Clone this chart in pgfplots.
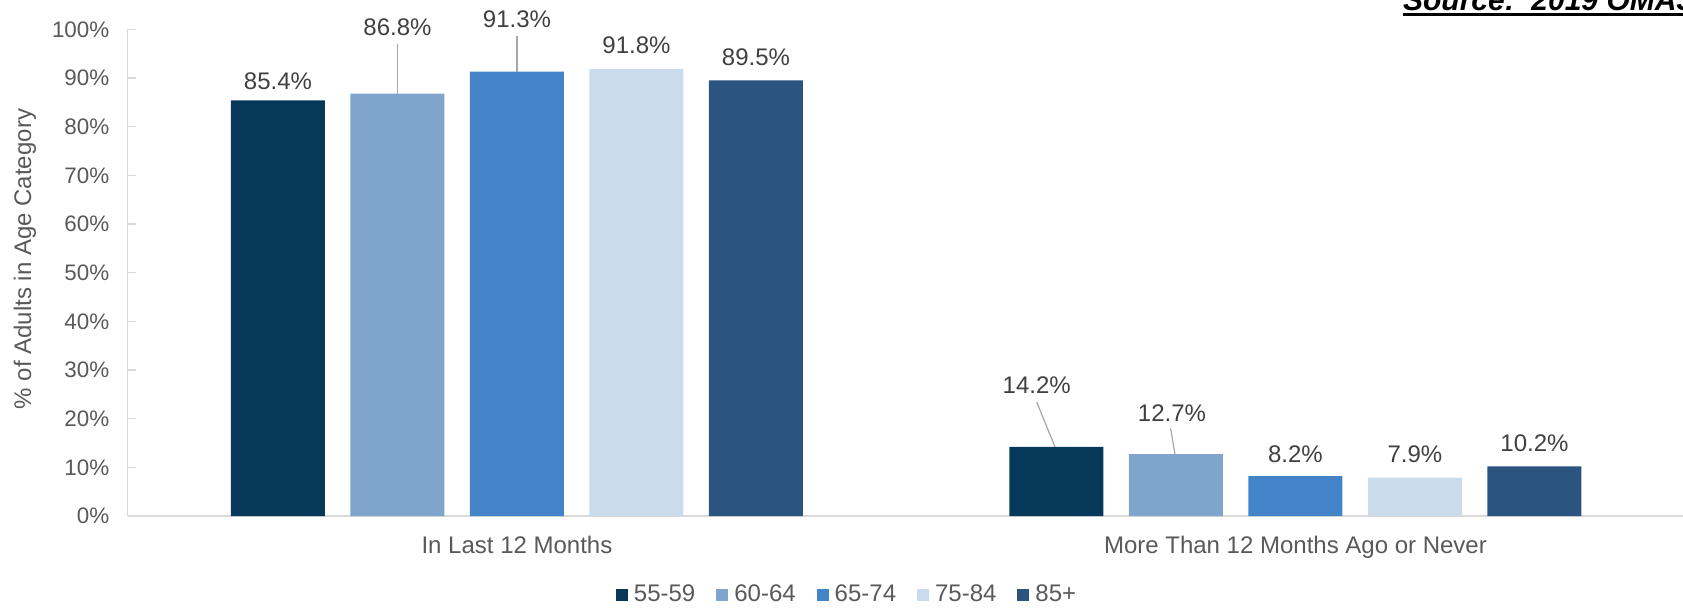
\documentclass[border=0pt]{standalone}
\usepackage{pgfplots}
\pgfplotsset{compat=1.18}
\usepackage{fontspec}
\setmainfont{Liberation Sans}
\definecolor{cA}{RGB}{5,56,89}
\definecolor{cB}{RGB}{127,165,204}
\definecolor{cC}{RGB}{67,132,201}
\definecolor{cD}{RGB}{202,219,236}
\definecolor{cE}{RGB}{43,84,128}
\definecolor{tickc}{RGB}{89,89,89}
\definecolor{labc}{RGB}{64,64,64}
\definecolor{axl}{RGB}{217,217,217}
\definecolor{leadc}{RGB}{166,166,166}
\pgfplotsset{sq legend/.style={legend image code/.code={\fill[##1] (0pt,-3pt) rectangle (6pt,3pt);}}}
\tikzset{lbl/.style={inner sep=0pt, anchor=center, font=\fontsize{12}{14}\selectfont, text=labc},
  lead/.style={draw=leadc, line width=0.6pt}}
\begin{document}
\begin{tikzpicture}
\begin{axis}[
  scale only axis, width=778.5pt, height=243.35pt,
  xmin=-0.5, xmax=1.5, ymin=0, ymax=100, enlargelimits=false, clip=false,
  axis x line*=bottom, axis y line*=left,
  axis line style={draw=axl, line width=0.75pt},
  xtick={0,1}, xticklabels={In Last 12 Months, More Than 12 Months Ago or Never},
  xtick style={draw=none},
  ytick={0,10,...,100},
  yticklabels={0\%,10\%,20\%,30\%,40\%,50\%,60\%,70\%,80\%,90\%,100\%},
  ytick style={draw=axl, line width=0.75pt},
  tick align=inside, major tick length=4pt,
  xticklabel style={anchor=base, inner sep=0pt, yshift=-18.5pt, font=\fontsize{12}{14}\selectfont, text=tickc},
  yticklabel style={anchor=east, inner sep=0pt, xshift=-9pt, font=\fontsize{11.2}{13}\selectfont, text=tickc},
  ylabel={\% of Adults in Age Category},
  ylabel style={at={(axis description cs:-0.066,0.528)}, anchor=center, inner sep=0pt, font=\fontsize{12}{14}\selectfont, text=tickc},
  legend columns=5,
  legend style={at={(axis description cs:0.4614,-0.1623)}, anchor=center, draw=none, fill=none,
    font=\fontsize{12}{14}\selectfont, text=tickc, nodes={inner sep=0pt},
    /tikz/every odd column/.append style={column sep=3pt},
    /tikz/every even column/.append style={column sep=10.5pt}},
]
\addplot[ybar, bar width=0.1207, bar shift=0pt, fill=cA, draw=none, sq legend] coordinates {(-0.307,85.4) (0.693,14.2)};
\addlegendentry{55-59}
\addplot[ybar, bar width=0.1207, bar shift=0pt, fill=cB, draw=none, sq legend] coordinates {(-0.1535,86.8) (0.8465,12.7)};
\addlegendentry{60-64}
\addplot[ybar, bar width=0.1207, bar shift=0pt, fill=cC, draw=none, sq legend] coordinates {(0,91.3) (1,8.2)};
\addlegendentry{65-74}
\addplot[ybar, bar width=0.1207, bar shift=0pt, fill=cD, draw=none, sq legend] coordinates {(0.1535,91.8) (1.1535,7.9)};
\addlegendentry{75-84}
\addplot[ybar, bar width=0.1207, bar shift=0pt, fill=cE, draw=none, sq legend] coordinates {(0.307,89.5) (1.307,10.2)};
\addlegendentry{85+}
% leader lines
\draw[lead] (axis cs:-0.1535,96.9) -- (axis cs:-0.1535,86.8);
\draw[lead] (axis cs:0,98.6) -- (axis cs:0,91.3);
\draw[lead] (axis cs:0.6677,23.4) -- (axis cs:0.6911,14.2);
\draw[lead] (axis cs:0.8397,18.0) -- (axis cs:0.8452,12.7);
% data labels
\node[lbl] at (axis cs:-0.307,89.4) {85.4\%};
\node[lbl] at (axis cs:-0.1535,100.4) {86.8\%};
\node[lbl] at (axis cs:0,102.1) {91.3\%};
\node[lbl] at (axis cs:0.1535,96.7) {91.8\%};
\node[lbl] at (axis cs:0.307,94.3) {89.5\%};
\node[lbl] at (axis cs:0.6677,26.9) {14.2\%};
\node[lbl] at (axis cs:0.8414,21.1) {12.7\%};
\node[lbl] at (axis cs:1,12.6) {8.2\%};
\node[lbl] at (axis cs:1.1535,12.6) {7.9\%};
\node[lbl] at (axis cs:1.307,15.0) {10.2\%};
\end{axis}
\node[anchor=base west, inner sep=0pt, font=\fontsize{15}{18}\selectfont\bfseries\itshape] at (637.5pt,253pt) {Source:\ \ 2019 OMAS};
\draw[line width=1.35pt] (637.5pt,250.9pt) -- (800pt,250.9pt);
\pgfresetboundingbox
\useasboundingbox (-63.85pt,-45.5pt) rectangle (777.65pt,258pt);
\end{tikzpicture}
\end{document}
